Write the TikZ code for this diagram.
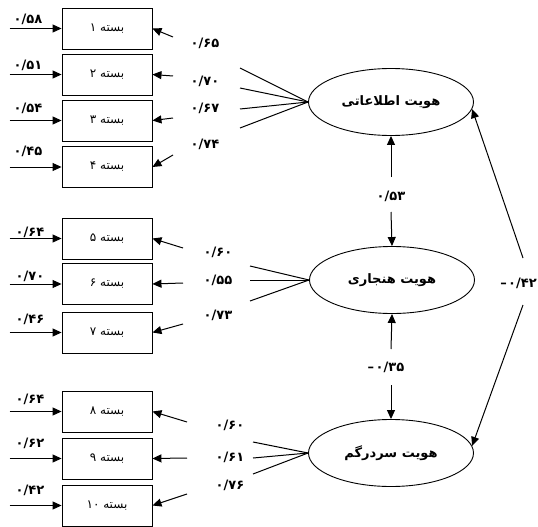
\documentclass[tikz,border=0pt]{standalone}
\usepackage{fontspec}
\newfontfamily\fa[Script=Arabic]{DejaVu Sans}
\TeXXeTstate=1
\usetikzlibrary{arrows.meta,shapes.geometric}
\newcommand{\negnum}[1]{\hbox{–}\kern1.5pt\hbox{#1}}
\begin{document}
\begin{tikzpicture}[x=1pt,y=-1pt,
  box/.style={draw, line width=0.9pt, minimum width=90pt, minimum height=41pt, inner sep=0pt, font=\fa\fontsize{12}{14}\selectfont},
  lat/.style={ellipse, draw, line width=0.9pt, minimum width=165pt, minimum height=67pt, inner sep=0pt, font=\fa\bfseries\fontsize{13}{15}\selectfont},
  num/.style={font=\fa\bfseries\fontsize{13}{15}\selectfont, inner sep=1pt},
  arr/.style={line width=1pt, -{Triangle[length=9pt,width=8pt]}},
  ln/.style={line width=1pt},
]
\fill[white] (0,0) rectangle (538,527);
\useasboundingbox (0,0) rectangle (538,527);

% boxes
\node[box] (b1) at (107,28.5) {\beginR بسته ۱\endR};
\node[box] (b2) at (107,74.5) {\beginR بسته ۲\endR};
\node[box] (b3) at (107,120.5) {\beginR بسته ۳\endR};
\node[box] (b4) at (107,167) {\beginR بسته ۴\endR};
\node[box] (b5) at (107,238.5) {\beginR بسته ۵\endR};
\node[box] (b6) at (107,284) {\beginR بسته ۶\endR};
\node[box] (b7) at (107,332.5) {\beginR بسته ۷\endR};
\node[box] (b8) at (107,411.5) {\beginR بسته ۸\endR};
\node[box] (b9) at (107,458.5) {\beginR بسته ۹\endR};
\node[box] (b10) at (107,505.5) {\beginR بسته ۱۰\endR};

% latent variables
\node[lat] (e1) at (391,102) {\beginR هویت اطلاعاتی\endR};
\node[lat] (e2) at (392,280) {\beginR هویت هنجاری\endR};
\node[lat] (e3) at (391,453) {\beginR هویت سردرگم\endR};

% error arrows (left)
\foreach \i in {1,...,10} {
  \coordinate (l\i) at ([xshift=-52pt]b\i.west);
  \draw[arr] (l\i) -- (b\i.west);
}
\node[num] (n1) at (28,19) {۰/۵۸};
\node[num] (n2) at (28,65) {۰/۵۱};
\node[num] (n3) at (28,108) {۰/۵۴};
\node[num] (n4) at (28,151) {۰/۴۵};
\node[num] (n5) at (30,232) {۰/۶۴};
\node[num] (n6) at (30,276) {۰/۷۰};
\node[num] (n7) at (30,319) {۰/۴۶};
\node[num] (n8) at (30,399) {۰/۶۴};
\node[num] (n9) at (30,443) {۰/۶۲};
\node[num] (n10) at (30,490) {۰/۴۲};

% loading arrows (right side of boxes)
\coordinate (r1) at (173,37);
\coordinate (r2) at (173,76);
\coordinate (r3) at (173,118);
\coordinate (r4) at (173,155);
\coordinate (r5) at (183,248);
\coordinate (r6) at (183,283);
\coordinate (r7) at (183,324);
\coordinate (r8) at (187,422);
\coordinate (r9) at (187,458);
\coordinate (r10) at (187,494);
\foreach \i in {1,...,10} {
  \draw[arr] (r\i) -- (b\i.east);
}
\node[num] (m1) at (205,43) {۰/۶۵};
\node[num] (m2) at (205,81) {۰/۷۰};
\node[num] (m3) at (205,108) {۰/۶۷};
\node[num] (m4) at (205,144) {۰/۷۴};
\node[num] (m5) at (218,252) {۰/۶۰};
\node[num] (m6) at (218,280) {۰/۵۵};
\node[num] (m7) at (218,315) {۰/۷۳};
\node[num] (m8) at (230,425) {۰/۶۰};
\node[num] (m9) at (230,457) {۰/۶۱};
\node[num] (m10) at (230,485) {۰/۷۶};

% lines from latent variables
\coordinate (f1) at (240,68);
\coordinate (f2) at (240,88);
\coordinate (f3) at (240,109);
\coordinate (f4) at (240,128);
\coordinate (f5) at (250,266);
\coordinate (f6) at (250,280);
\coordinate (f7) at (250,301);
\coordinate (f8) at (253,442);
\coordinate (f9) at (253,458);
\coordinate (f10) at (253,474);
\foreach \i in {1,...,4} {\draw[ln] (e1.west) -- (f\i);}
\foreach \i in {5,6,7} {\draw[ln] (e2.west) -- (f\i);}
\foreach \i in {8,9,10} {\draw[ln] (e3.west) -- (f\i);}

% correlations
\coordinate (c1) at (391,177);
\coordinate (c2) at (391,212);
\draw[arr] (c1) -- (e1.south);
\draw[arr] (c2) -- (e2.north);
\node[num] (k1) at (391,196) {۰/۵۳};

\coordinate (c3) at (391,349);
\coordinate (c4) at (391,385);
\draw[arr] (c3) -- (e2.south);
\draw[arr] (c4) -- (e3.north);
\node[num] (k2) at (386,367) {\negnum{۰/۳۵}};

\coordinate (c5) at (523,258);
\coordinate (c6) at (523,305);
\draw[arr] (c5) -- (e1.-5);
\draw[arr] (c6) -- (e3.5);
\node[num, anchor=east] (k3) at (538,283) {\negnum{۰/۴۲}};
\end{tikzpicture}
\end{document}
